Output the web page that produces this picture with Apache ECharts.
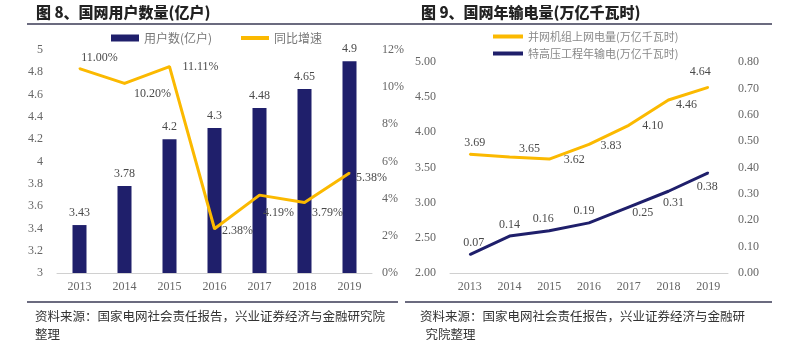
<!DOCTYPE html>
<html><head><meta charset="utf-8">
<script src="https://cdn.jsdelivr.net/npm/echarts@6/dist/echarts.min.js"></script>
<style>html,body{margin:0;padding:0;background:#fff}#c{width:800px;height:360px}</style>
</head><body><div id="c"></div>
<script>
var years = ['2013','2014','2015','2016','2017','2018','2019'];
var users = [3.43, 3.78, 4.2, 4.3, 4.48, 4.65, 4.9];
var userGrowth = [11.00, 10.20, 11.11, 2.38, 4.19, 3.79, 5.38];
var gridPower = [3.69, 3.65, 3.62, 3.83, 4.10, 4.46, 4.64];
var uhvPower = [0.07, 0.14, 0.16, 0.19, 0.25, 0.31, 0.38];
var leftTicks = ['3','3.2','3.4','3.6','3.8','4','4.2','4.4','4.6','4.8','5'];

var NAVY = '#1f1f6b', GOLD = '#fbb900', TXT = '#4a4a4a', AX = '#666';
var numFont = 'Liberation Serif';
var cjk = 'Noto Sans CJK SC';

var growthOff = [[20,-11],[28,10],[31,0],[23,2],[19,18],[23,10],[22,5]];
var gridOff = [[5,-11],[20,-8],[25,1],[22,2],[24,1],[18,5],[-8,-15]];
var uhvOff = [[4,-12],[0,-11],[-6,-12],[-5,-12],[14,6],[5,12],[-1,14]];

function lbl(vals, offs, fmt){
  return vals.map(function(v,i){
    return {value:v, label:{show:true, position:'inside', offset:offs[i], formatter:fmt(v),
      color:TXT, fontFamily:numFont, fontSize:12}};
  });
}

var chart = echarts.init(document.getElementById('c'));
chart.setOption({
  backgroundColor:'#fff',
  animation:false,
  title:[
    {text:'图 8、国网用户数量(亿户)', left:36, top:5, padding:0, textStyle:{fontFamily:cjk, fontWeight:900, fontSize:15, color:'#222'}},
    {text:'图 9、国网年输电量(万亿千瓦时)', left:421, top:5, padding:0, textStyle:{fontFamily:cjk, fontWeight:900, fontSize:15, color:'#222'}}
  ],
  legend:[
    {data:['用户数(亿户)'], left:106, top:27, icon:'rect', itemWidth:28, itemHeight:7, itemGap:10,
      textStyle:{fontFamily:cjk, fontSize:12, color:'#777'}},
    {data:['同比增速'], left:236, top:27, icon:'rect', itemWidth:28, itemHeight:4,
      textStyle:{fontFamily:cjk, fontSize:12, color:'#777'}},
    {data:['并网机组上网电量(万亿千瓦时)','特高压工程年输电(万亿千瓦时)'], left:488, top:26, orient:'vertical',
      icon:'rect', itemWidth:30, itemHeight:4, itemGap:6, textStyle:{fontFamily:cjk, fontSize:11, color:'#888'}}
  ],
  grid:[
    {left:57, right:428, top:50, bottom:87},
    {left:450, right:72, top:62, bottom:87}
  ],
  xAxis:[
    {type:'category', gridIndex:0, data:years, axisLine:{lineStyle:{color:'#d0d0d0'}}, axisTick:{show:false},
      axisLabel:{color:AX, fontFamily:numFont, fontSize:12, margin:8}},
    {type:'category', gridIndex:1, data:years, axisLine:{lineStyle:{color:'#d0d0d0'}}, axisTick:{show:false},
      axisLabel:{color:AX, fontFamily:numFont, fontSize:12, margin:8}}
  ],
  yAxis:[
    {type:'value', gridIndex:0, min:3, max:5, interval:0.2, splitLine:{show:false}, axisLine:{show:false}, axisTick:{show:false},
      axisLabel:{color:AX, fontFamily:numFont, fontSize:12, margin:14, formatter:function(v){
        var i=Math.round((v-3)/0.2); return leftTicks[i];}}},
    {type:'value', gridIndex:0, min:0, max:12, interval:2, position:'right', splitLine:{show:false}, axisLine:{show:false}, axisTick:{show:false},
      axisLabel:{color:AX, fontFamily:numFont, fontSize:12, margin:10, formatter:'{value}%'}},
    {type:'value', gridIndex:1, min:2, max:5, interval:0.5, splitLine:{show:false}, axisLine:{show:false}, axisTick:{show:false},
      axisLabel:{color:AX, fontFamily:numFont, fontSize:12, margin:14, formatter:function(v){return v.toFixed(2);}}},
    {type:'value', gridIndex:1, min:0, max:0.8, interval:0.1, position:'right', splitLine:{show:false}, axisLine:{show:false}, axisTick:{show:false},
      axisLabel:{color:AX, fontFamily:numFont, fontSize:12, margin:10, formatter:function(v){return v.toFixed(2);}}}
  ],
  series:[
    {name:'用户数(亿户)', type:'bar', xAxisIndex:0, yAxisIndex:0, data:users, barWidth:14,
      itemStyle:{color:NAVY},
      label:{show:true, position:'top', distance:6, color:TXT, fontFamily:numFont, fontSize:12}},
    {name:'同比增速', type:'line', xAxisIndex:0, yAxisIndex:1, symbol:'circle', symbolSize:2,
      lineStyle:{color:GOLD, width:3}, itemStyle:{color:GOLD},
      data:lbl(userGrowth, growthOff, function(v){return v.toFixed(2)+'%';})},
    {name:'并网机组上网电量(万亿千瓦时)', type:'line', xAxisIndex:1, yAxisIndex:2, symbol:'circle', symbolSize:2,
      lineStyle:{color:GOLD, width:3}, itemStyle:{color:GOLD},
      data:lbl(gridPower, gridOff, function(v){return v.toFixed(2);})},
    {name:'特高压工程年输电(万亿千瓦时)', type:'line', xAxisIndex:1, yAxisIndex:3, symbol:'circle', symbolSize:2,
      lineStyle:{color:NAVY, width:3}, itemStyle:{color:NAVY},
      data:lbl(uhvPower, uhvOff, function(v){return v.toFixed(2);})}
  ],
  graphic:[
    {type:'line', shape:{x1:27,y1:24,x2:400,y2:24}, style:{stroke:'#3a3a55', lineWidth:1.5}},
    {type:'line', shape:{x1:400,y1:24,x2:772,y2:24}, style:{stroke:'#3a3a55', lineWidth:1.5}},
    {type:'line', shape:{x1:27,y1:302,x2:398,y2:302}, style:{stroke:'#3a3a55', lineWidth:1.5}},
    {type:'line', shape:{x1:405,y1:302,x2:772,y2:302}, style:{stroke:'#3a3a55', lineWidth:1.5}},
    {type:'text', left:35, top:307, style:{text:'资料来源：国家电网社会责任报告，兴业证券经济与金融研究院\n整理', fontFamily:cjk, fontSize:12.5, lineHeight:18, fill:'#333'}},
    {type:'text', left:420, top:307, style:{text:'资料来源：国家电网社会责任报告，兴业证券经济与金融研\n  究院整理', fontFamily:cjk, fontSize:12.5, lineHeight:18, fill:'#333'}}
  ]
});
</script></body></html>
